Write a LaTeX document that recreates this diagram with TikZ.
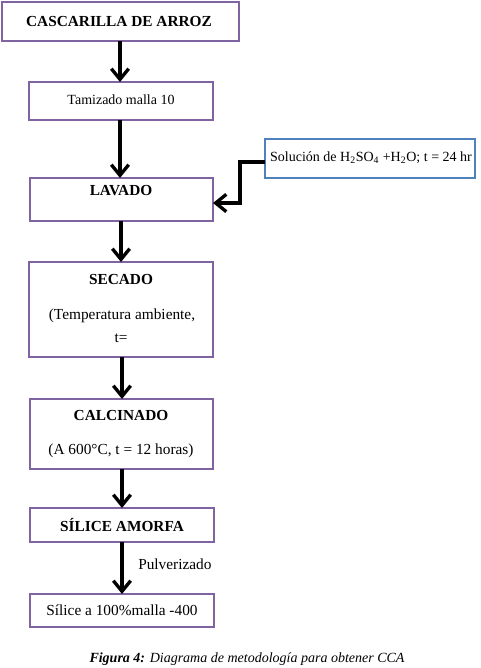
\documentclass[tikz,border=0pt]{standalone}
\usepackage{fontspec}
\setmainfont{Liberation Serif}
\usetikzlibrary{arrows.meta}
\definecolor{boxpurple}{HTML}{8064A2}
\definecolor{boxblue}{HTML}{4F81BD}
\tikzset{
  pbox/.style={draw=boxpurple, line width=2pt, fill=white, inner sep=0pt},
  bbox/.style={draw=boxblue, line width=2pt, fill=white, inner sep=0pt},
  flow/.style={line width=2.5pt, -{Straight Barb[length=8pt,width=13pt,line width=2.5pt]}},
  txt/.style={inner sep=0pt, font=\fontsize{11.5}{13}\selectfont},
  ttl/.style={inner sep=0pt, font=\fontsize{11.5}{13}\selectfont\bfseries},
}
\begin{document}
\begin{tikzpicture}[x=0.75pt,y=-0.75pt]
\useasboundingbox (0,0) rectangle (481,668);
% boxes
\draw[pbox] (2,2) rectangle (239,41);
\node[ttl] (t1) at (119,21) {CASCARILLA DE ARROZ};
\draw[pbox] (29,82) rectangle (213,120);
\node[txt, font=\fontsize{10.5}{12}\selectfont] (t2) at (121,100) {Tamizado malla 10};
\draw[bbox] (265,139) rectangle (475,178);
\node[txt, font=\fontsize{10.5}{12}\selectfont] (t3) at (371,158) {Solución de H\textsubscript{2}SO\textsubscript{4} +H\textsubscript{2}O; t = 24 hr};
\draw[pbox] (30,178) rectangle (213,221);
\node[ttl] (t4) at (121,191) {LAVADO};
\draw[pbox] (29,262) rectangle (213,357);
\node[ttl] (t5) at (121,279) {SECADO};
\node[txt] (t5b) at (122,316) {(Temperatura ambiente,};
\node[txt] (t5c) at (121,338) {t=};
\draw[pbox] (30,399) rectangle (213,469);
\node[ttl] (t6) at (121,415) {CALCINADO};
\node[txt] (t6b) at (121,451) {(A 600°C, t = 12 horas)};
\draw[pbox] (30,508) rectangle (214,542);
\node[ttl] (t7) at (122,525) {SÍLICE AMORFA};
\draw[pbox] (30,594) rectangle (214,627);
\node[txt] (t8) at (122,610) {Sílice a 100\%malla -400};
\node[txt, anchor=west] (pl) at (138,564) {Pulverizado};
\node[inner sep=0pt, font=\fontsize{10.5}{12}\selectfont\itshape] (cap) at (247,659) {\textbf{Figura 4:} Diagrama de metodología para obtener CCA};
% named anchors for box edges
\coordinate (b1) at (120,41);
\coordinate (b2t) at (120,82);
\coordinate (b2b) at (120,120);
\coordinate (b3t) at (120,178);
\coordinate (b3r) at (213,203);
\coordinate (s3l) at (265,162);
\coordinate (b3b) at (121,221);
\coordinate (b4t) at (121,262);
\coordinate (b4b) at (122,357);
\coordinate (b5t) at (122,399);
\coordinate (b5b) at (122,469);
\coordinate (b6t) at (122,508);
\coordinate (b6b) at (122,542);
\coordinate (b7t) at (122,594);
% connectors
\draw[flow] (b1) -- (b2t);
\draw[flow] (b2b) -- (b3t);
\draw[flow] (s3l) -- (240,162) -- (240,203) -- (b3r);
\draw[flow] (b3b) -- (b4t);
\draw[flow] (b4b) -- (b5t);
\draw[flow] (b5b) -- (b6t);
\draw[flow] (b6b) -- (b7t);
\end{tikzpicture}
\end{document}
